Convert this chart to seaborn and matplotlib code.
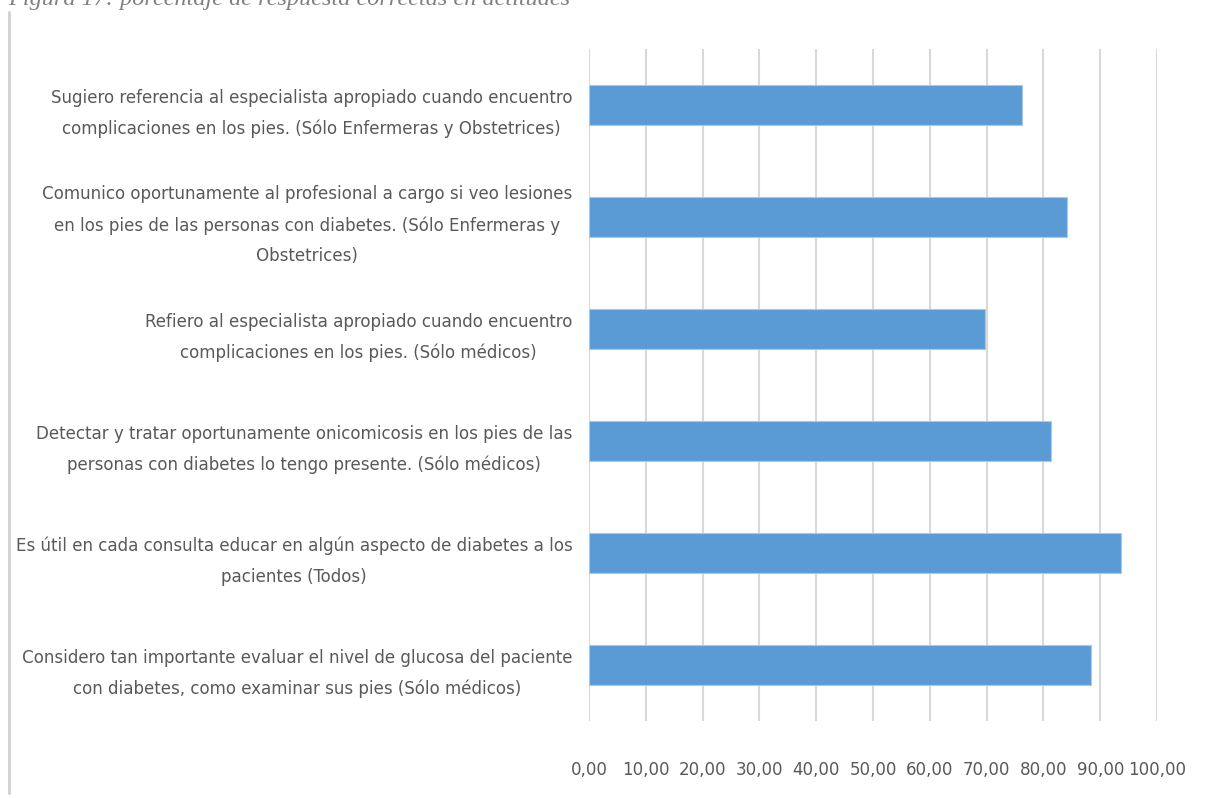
import matplotlib
matplotlib.use("Agg")
import matplotlib.pyplot as plt
import matplotlib.lines as mlines
from matplotlib import font_manager
import seaborn as sns
import pandas as pd

# Survey items (top to bottom) and percentage of correct answers
items = [
    "Sugiero referencia al especialista apropiado cuando encuentro\ncomplicaciones en los pies. (Sólo Enfermeras y Obstetrices)",
    "Comunico oportunamente al profesional a cargo si veo lesiones\nen los pies de las personas con diabetes. (Sólo Enfermeras y\nObstetrices)",
    "Refiero al especialista apropiado cuando encuentro\ncomplicaciones en los pies. (Sólo médicos)",
    "Detectar y tratar oportunamente onicomicosis en los pies de las\npersonas con diabetes lo tengo presente. (Sólo médicos)",
    "Es útil en cada consulta educar en algún aspecto de diabetes a los\npacientes (Todos)",
    "Considero tan importante evaluar el nivel de glucosa del paciente\ncon diabetes, como examinar sus pies (Sólo médicos)",
]
porcentajes = [76.2, 84.2, 69.8, 81.4, 93.6, 88.4]
ticks = [0, 10, 20, 30, 40, 50, 60, 70, 80, 90, 100]
tick_labels = ["0,00", "10,00", "20,00", "30,00", "40,00", "50,00",
               "60,00", "70,00", "80,00", "90,00", "100,00"]
caption = "Figura 17: porcentaje de respuesta correctas en actitudes"

df = pd.DataFrame({"item": items, "pct": porcentajes})

sns.set_theme(style="white")

# Prefer a narrow sans face for the labels
names = {f.name for f in font_manager.fontManager.ttflist}
condensed = any(f.name == "DejaVu Sans" and f.stretch == "condensed"
                for f in font_manager.fontManager.ttflist)
if "Liberation Sans Narrow" in names:
    family, stretch, size = "Liberation Sans Narrow", "normal", 14.5
elif condensed:
    family, stretch, size = "DejaVu Sans", "condensed", 13.3
else:
    family, stretch, size = "DejaVu Sans", "normal", 12
plt.rcParams["font.family"] = [family, "DejaVu Sans"]
plt.rcParams["font.stretch"] = stretch
line_px = 35
linespacing = line_px / (size * 100 / 72)

W, H = 1213, 798
fig = plt.figure(figsize=(W / 100, H / 100), dpi=100)
ax = fig.add_axes([589 / W, 1 - 721 / H, (1157 - 589) / W, (721 - 49) / H])

sns.barplot(data=df, x="pct", y="item", orient="h", color="#5b9bd5",
            saturation=1, width=0.35, edgecolor="#a8c9ec", linewidth=0.8,
            ax=ax)

ax.set_xlim(0, 100)
ax.set_xticks(ticks)
ax.set_xticklabels(tick_labels)
ax.set_xlabel("")
ax.set_ylabel("")
ax.grid(axis="x", color="#d9d9d9", linewidth=1.5)
ax.grid(axis="y", visible=False)
ax.set_axisbelow(True)
for s in ax.spines.values():
    s.set_visible(False)

ax.tick_params(axis="x", length=5, width=1.5, color="#d9d9d9", pad=24,
               labelsize=size, labelcolor="#595959")
ax.tick_params(axis="y", length=0, pad=12, labelsize=size, labelcolor="#595959")
for lab in ax.get_xticklabels() + ax.get_yticklabels():
    lab.set_fontstretch(stretch)
for lab in ax.get_yticklabels():
    lab.set_multialignment("center")
    lab.set_linespacing(linespacing)

# Frame line at the left edge of the page and the figure caption
fig.add_artist(mlines.Line2D([9 / W, 9 / W], [1 - 12 / H, 1 - 793 / H],
                             color="#d0d0d0", linewidth=2))
fig.text(8 / W, 1 - 5 / H, caption, family="Liberation Serif",
         style="italic", fontsize=17.5, color="#808080", va="baseline")

fig.savefig("out.png", dpi=100)
